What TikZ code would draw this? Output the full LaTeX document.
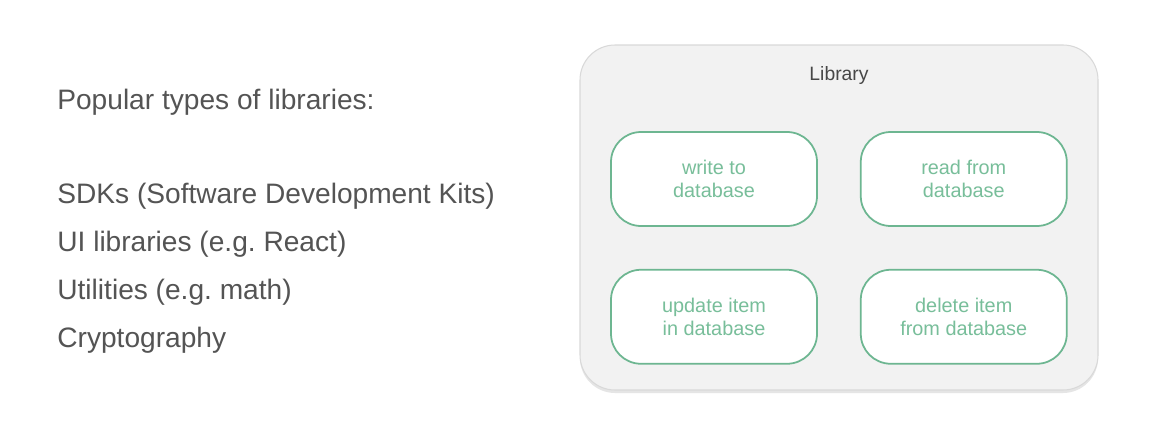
\documentclass[tikz,border=0pt]{standalone}
\usepackage{fontspec}
\setmainfont{Liberation Sans}
\usetikzlibrary{positioning, shadows}
\definecolor{txtgray}{HTML}{545454}
\definecolor{libfill}{HTML}{F2F2F2}
\definecolor{libline}{HTML}{D9D9D9}
\definecolor{opline}{HTML}{6DB691}
\definecolor{optext}{HTML}{78BE9A}
\begin{document}
\begin{tikzpicture}[
    lbl/.style={anchor=base west, inner sep=0pt, text=txtgray, font=\fontsize{16}{19}\selectfont},
    libbox/.style={draw=libline, fill=libfill, line width=0.6pt, rounded corners=0.7cm,
      minimum width=10.36cm, minimum height=6.9cm, inner sep=0pt,
      drop shadow={shadow xshift=0pt, shadow yshift=-0.06cm, opacity=0.25, fill=black!40}},
    opbox/.style={draw=opline, fill=white, line width=1pt, rounded corners=0.6cm,
      minimum width=4.12cm, minimum height=1.88cm, align=center, text=optext,
      font=\fontsize{11.3}{13.2}\selectfont},
    node distance=0.84cm
  ]
% canvas
\useasboundingbox[fill=white] (0,0) rectangle (23.04,8.82);

% =================== list of library types ===================
\node[lbl] (head) at (1.14,6.64) {Popular types of libraries:};
\node[lbl] (sdk) at (1.14,4.76) {SDKs (Software Development Kits)};
\node[lbl] (ui) at (1.14,3.80) {UI libraries (e.g.\ React)};
\node[lbl] (util) at (1.14,2.84) {Utilities (e.g.\ math)};
\node[lbl] (crypto) at (1.14,1.88) {Cryptography};

% =================== library box ===================
\node[libbox] (lib) at (16.78,4.47) {};
\node[below=0.31cm of lib.north, text=txtgray!85!black, font=\fontsize{11}{13}\selectfont] (libtitle) {Library};

% operations (2x2)
\node[opbox] (write) at (14.28,5.24) {write to\\database};
\node[opbox, right=of write] (read) {read from\\database};
\node[opbox, below=of write] (update) {update item\\in database};
\node[opbox, below=of read] (delete) {delete item\\from database};

\end{tikzpicture}
\end{document}
